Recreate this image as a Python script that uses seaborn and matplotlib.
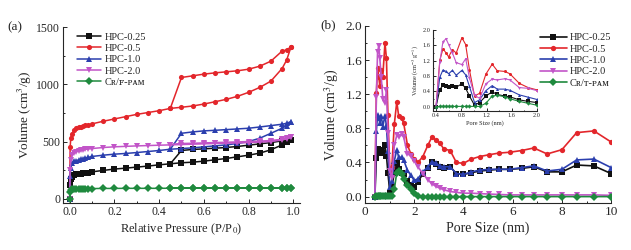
import matplotlib
matplotlib.use("Agg")
import matplotlib.pyplot as plt
from matplotlib.ticker import MultipleLocator
import seaborn as sns

# ---- (a) N2 isotherms: adsorption branch then desorption branch ----
ads_p = [0.0, 0.002, 0.005, 0.01, 0.02, 0.03, 0.04, 0.05, 0.06, 0.07, 0.08, 0.1,
         0.15, 0.2, 0.25, 0.3, 0.35, 0.4, 0.45, 0.5, 0.55, 0.6, 0.65, 0.7, 0.75,
         0.8, 0.85, 0.9, 0.95, 0.97, 0.99]
des_p = [0.99, 0.97, 0.95, 0.9, 0.85, 0.8, 0.75, 0.7, 0.65, 0.6, 0.55, 0.5, 0.45]

hpc025_ads = [0, 120, 170, 191, 211, 215, 218, 220, 224, 228, 231, 237, 249, 261, 269, 278,
              287, 298, 307, 316, 321, 330, 342, 353, 368, 382, 400, 429, 472, 495, 515]
hpc025_des = [515, 510, 507, 492, 481, 469, 458, 449, 443, 437, 432, 423, 307]
hpc05_ads = [0, 450, 530, 570, 600, 615, 625, 632, 638, 642, 646, 655, 678, 698, 718, 738,
             754, 770, 790, 800, 811, 828, 848, 869, 895, 930, 973, 1028, 1138, 1210, 1326]
hpc05_des = [1326, 1300, 1290, 1202, 1158, 1132, 1118, 1109, 1100, 1089, 1074, 1060, 790]
hpc10_ads = [0, 200, 270, 313, 327, 335, 341, 347, 352, 357, 362, 371, 382, 391, 397, 405,
             414, 423, 434, 440, 446, 455, 463, 472, 484, 501, 530, 573, 617, 640, 675]
hpc10_des = [675, 660, 652, 640, 628, 617, 611, 605, 599, 594, 585, 573, 434]
hpc20_ads = [0, 250, 340, 382, 405, 412, 417, 423, 428, 432, 436, 440, 449, 455, 459, 463,
             466, 469, 472, 475, 478, 481, 484, 487, 489, 492, 496, 501, 515, 525, 539]
hpc20_des = [539, 530, 521, 510, 505, 501, 498, 495, 492, 489, 486, 484, 475]
pam_ads = [0, 60, 80, 85, 88, 89, 90, 90, 90, 90, 91, 91, 92, 92, 93, 93,
           93, 93, 94, 94, 94, 94, 94, 95, 95, 95, 95, 96, 96, 97, 98]
pam_des = [98, 97, 97, 96, 96, 96, 95, 95, 95, 95, 95, 95, 94]

# ---- (b) pore size distributions ----
pore = [0.40, 0.46, 0.51, 0.56, 0.60, 0.66, 0.72, 0.81, 0.87, 0.93, 1.01, 1.09, 1.19,
        1.29, 1.37, 1.49, 1.57, 1.72, 1.86, 2.0, 2.15, 2.35, 2.55, 2.72, 2.88, 3.03,
        3.2, 3.46, 3.71, 4.0, 4.32, 4.66, 5.03, 5.43, 5.88, 6.36, 6.86, 7.4, 8.0,
        8.6, 9.3, 10.0]
psd025 = [0.0, 0.45, 0.56, 0.54, 0.51, 0.55, 0.51, 0.60, 0.48, 0.28, 0.04, 0.11, 0.28,
          0.39, 0.32, 0.28, 0.26, 0.18, 0.14, 0.11, 0.17, 0.27, 0.34, 0.40, 0.38, 0.35,
          0.34, 0.35, 0.27, 0.26, 0.28, 0.30, 0.31, 0.32, 0.32, 0.33, 0.35, 0.29, 0.29,
          0.37, 0.36, 0.27]
psd05 = [0.0, 1.21, 1.51, 1.40, 1.30, 1.49, 1.40, 1.80, 1.62, 0.96, 0.28, 0.35, 0.85,
         1.11, 0.94, 0.92, 0.86, 0.61, 0.50, 0.44, 0.40, 0.47, 0.60, 0.70, 0.66, 0.63,
         0.56, 0.54, 0.40, 0.39, 0.44, 0.47, 0.49, 0.51, 0.52, 0.54, 0.57, 0.50, 0.55,
         0.75, 0.77, 0.64]
psd10 = [0.0, 0.77, 0.96, 0.92, 0.86, 0.95, 0.82, 0.95, 0.83, 0.53, 0.11, 0.18, 0.42,
         0.55, 0.46, 0.46, 0.43, 0.31, 0.25, 0.19, 0.21, 0.29, 0.35, 0.41, 0.39, 0.36,
         0.35, 0.35, 0.27, 0.26, 0.29, 0.31, 0.32, 0.32, 0.32, 0.34, 0.36, 0.30, 0.32,
         0.43, 0.44, 0.34]
psd20 = [0.0, 1.17, 1.70, 1.77, 1.62, 1.40, 1.15, 1.10, 1.25, 0.75, 0.30, 0.22, 0.60,
         0.72, 0.70, 0.73, 0.70, 0.50, 0.48, 0.42, 0.35, 0.27, 0.20, 0.15, 0.12, 0.10,
         0.08, 0.06, 0.05, 0.04, 0.04, 0.035, 0.03, 0.025, 0.02, 0.02, 0.02, 0.02, 0.02,
         0.02, 0.02, 0.015]
psd_pam = [0.0, 0.01, 0.01, 0.01, 0.01, 0.01, 0.01, 0.01, 0.01, 0.01, 0.01, 0.01, 0.09,
           0.28, 0.30, 0.26, 0.21, 0.14, 0.09, 0.04, 0.01, 0.0, 0.0, 0.0, 0.0, 0.0,
           0.0, 0.0, 0.0, 0.0, 0.0, 0.0, 0.0, 0.0, 0.0, 0.0, 0.0, 0.0, 0.0,
           0.0, 0.0, 0.0]

names_a = ["HPC-0.25", "HPC-0.5", "HPC-1.0", "HPC-2.0", "C\u0280/\ua730-\u1d18\u1d00\u1d0d"]
names_b = ["HPC-0.25", "HPC-0.5", "HPC-1.0", "HPC-2.0", "C\u0280/\u1d1b-\u1d18\u1d00\u1d0d"]
colors = ["#111111", "#e3262b", "#2b3fae", "#c255c8", "#1f8a3e"]
markers = ["s", "o", "^", "v", "D"]

sns.set_style("ticks")
plt.rcParams['font.family'] = ['Liberation Serif', 'DejaVu Serif', 'DejaVu Sans']
plt.rcParams['mathtext.fontset'] = 'stix'

fig = plt.figure(figsize=(6.31, 2.5), dpi=100)
ax1 = fig.add_axes([0.0998, 0.188, 0.3756, 0.704])
ax2 = fig.add_axes([0.5785, 0.188, 0.390, 0.708])
axin = fig.add_axes([0.686, 0.556, 0.165, 0.324])

iso = [(hpc025_ads, hpc025_des), (hpc05_ads, hpc05_des), (hpc10_ads, hpc10_des),
       (hpc20_ads, hpc20_des), (pam_ads, pam_des)]
psd = [psd025, psd05, psd10, psd20, psd_pam]

for i, (a, d) in enumerate(iso):
    sns.lineplot(x=ads_p + des_p, y=a + d, sort=False, estimator=None, ax=ax1,
                 color=colors[i], marker=markers[i], markersize=3.7, markeredgewidth=0,
                 linewidth=1.1, label=names_a[i])

for i, v in enumerate(psd):
    sns.lineplot(x=pore, y=v, sort=False, estimator=None, ax=ax2,
                 color=colors[i], marker=markers[i], markersize=3.8, markeredgewidth=0,
                 linewidth=1.2, label=names_b[i])
    sns.lineplot(x=pore, y=v, sort=False, estimator=None, ax=axin,
                 color=colors[i], marker=markers[i], markersize=2.2, markeredgewidth=0,
                 linewidth=0.8, legend=False)

for ax in (ax1, ax2, axin):
    sns.despine(ax=ax)
    ax.tick_params(which='both', direction='in', width=0.7)
    ax.tick_params(which='major', length=3)
    ax.tick_params(which='minor', length=1.6)
    for s in ('left', 'bottom'):
        ax.spines[s].set_linewidth(0.8)

# (a)
ax1.set_xlim(-0.03, 1.03)
ax1.set_ylim(-35, 1500)
ax1.xaxis.set_major_locator(MultipleLocator(0.2))
ax1.xaxis.set_minor_locator(MultipleLocator(0.1))
ax1.yaxis.set_major_locator(MultipleLocator(500))
ax1.yaxis.set_minor_locator(MultipleLocator(250))
ax1.xaxis.set_major_formatter(matplotlib.ticker.FormatStrFormatter('%.1f'))
ax1.tick_params(labelsize=8.5, pad=2)
ax1.set_xlabel("Relative Pressure (P/P$_0$)", fontsize=9, labelpad=3)
ax1.set_ylabel("Volume (cm$^3$/g)", fontsize=9.5, labelpad=2)
ax1.legend(loc='upper left', bbox_to_anchor=(0.06, 0.97), frameon=False, fontsize=7.5,
           handlelength=2.3, labelspacing=0.2, handletextpad=0.3, borderpad=0,
           borderaxespad=0)

# (b)
ax2.set_xlim(0, 10)
ax2.set_ylim(-0.075, 2.0)
ax2.xaxis.set_major_locator(MultipleLocator(2))
ax2.xaxis.set_minor_locator(MultipleLocator(1))
ax2.yaxis.set_major_locator(MultipleLocator(0.4))
ax2.yaxis.set_minor_locator(MultipleLocator(0.2))
ax2.yaxis.set_major_formatter(matplotlib.ticker.FormatStrFormatter('%.1f'))
ax2.tick_params(labelsize=9.5, pad=2)
ax2.set_xlabel("Pore Size (nm)", fontsize=10, labelpad=3)
ax2.set_ylabel("Volume (cm$^3$/g)", fontsize=10, labelpad=3)
ax2.legend(loc='upper left', bbox_to_anchor=(0.71, 0.96), frameon=False, fontsize=7.5,
           handlelength=2.6, labelspacing=0.2, handletextpad=0.3, borderpad=0,
           borderaxespad=0)

# inset
axin.set_xlim(0.35, 2.0)
axin.set_ylim(-0.11, 2.0)
axin.xaxis.set_major_locator(MultipleLocator(0.4))
axin.xaxis.set_minor_locator(MultipleLocator(0.2))
axin.yaxis.set_major_locator(MultipleLocator(0.4))
axin.yaxis.set_minor_locator(MultipleLocator(0.2))
axin.yaxis.set_major_formatter(matplotlib.ticker.FormatStrFormatter('%.1f'))
axin.tick_params(labelsize=4.5, pad=1.5, length=2)
axin.tick_params(which='minor', length=1)
axin.set_xlabel("Pore Size (nm)", fontsize=4.5, labelpad=1.5)
axin.set_ylabel("Volume (cm$^{-3}$ g$^{-1}$)", fontsize=4.5, labelpad=1.5)

fig.text(0.012, 0.892, "(a)", fontsize=9.5, va='center')
fig.text(0.508, 0.9, "(b)", fontsize=9.5, va='center')

fig.savefig("out.png", dpi=100)
